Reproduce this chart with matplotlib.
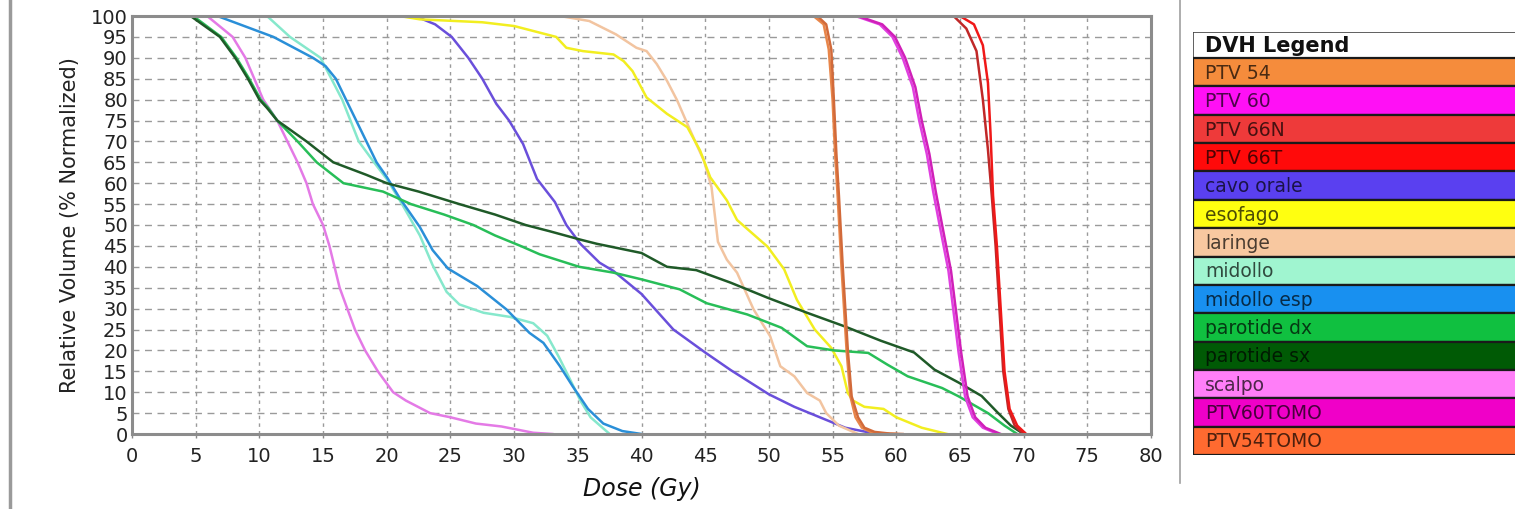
import matplotlib
matplotlib.use("Agg")
import matplotlib.pyplot as plt
from matplotlib.lines import Line2D
import numpy as np

plt.rcParams['font.family'] = ['DejaVu Sans']

# --- DVH curves (dose Gy, relative volume %) ---
scalpo_dose = [0, 5.9, 7.9, 8.9, 10.3, 11.4, 12.2, 13.0, 13.7, 14.2, 15.0, 15.5, 15.9, 16.3, 16.9,
               17.5, 18.3, 19.3, 20.5, 21.5, 23.4, 25.0, 27.0, 29.0, 30.0, 31.5, 33.0]
scalpo_vol = [100, 100, 95, 90, 80, 75, 70, 65, 60, 55, 50, 45, 40, 35, 30,
              25, 20, 15, 10, 8, 5, 4, 2.5, 1.8, 1.2, 0.3, 0]

midollo_esp_dose = [0, 6.7, 11.1, 14.2, 15.2, 16.0, 16.8, 17.6, 18.4, 19.2, 20.0, 21.0, 22.6, 23.6, 24.8,
                    27.1, 29.4, 31.2, 32.3, 33.6, 34.6, 35.8, 37.0, 38.5, 40.0]
midollo_esp_vol = [100, 100, 95, 90, 88, 85, 80, 75, 70, 65, 61.5, 56.5, 49.5, 44, 39.6,
                   35.4, 29.8, 24.2, 21.8, 16.2, 11.4, 6, 2.5, 0.7, 0]

midollo_dose = [0, 10.6, 12.4, 14.8, 16.5, 17.8, 19.0, 20.0, 21.2, 22.6, 23.6, 24.7, 25.7, 27.6, 29.7,
                31.5, 32.6, 33.5, 34.4, 35.2, 36.0, 37.5]
midollo_vol = [100, 100, 95, 90, 80, 70, 65, 61, 55, 47.5, 40.4, 34, 31, 29, 28,
               26.5, 23.5, 18.5, 13, 8, 4, 0]

parotide_sx_dose = [0, 4.6, 6.9, 8.1, 9.1, 10.0, 10.6, 11.4, 13.7, 15.8, 18.4, 20.0, 22.5, 25.7, 28.5,
                    30.9, 32.8, 35.2, 36.5, 40.0, 42.0, 44.3, 47.0, 49.9, 53.0, 55.9, 58.8, 61.4, 63.0,
                    64.9, 66.7, 68.0, 69.0, 70.0]
parotide_sx_vol = [100, 100, 95, 90, 85, 80, 78, 75, 70, 65, 62, 60, 58, 55, 52.5,
                   50, 48.5, 46.5, 45.5, 43.3, 40, 39.2, 36.2, 32.6, 29, 25.8, 22.3, 19.5, 15.4,
                   12.3, 9.1, 5, 2, 0]

parotide_dx_dose = [0, 4.8, 7.0, 8.2, 9.2, 10.1, 10.7, 11.4, 13.0, 14.5, 16.6, 19.7, 21.9, 24.5, 26.8,
                    28.5, 30.5, 32.0, 35.1, 37.8, 40.0, 43.0, 45.1, 48.3, 51.0, 53.0, 55.1, 57.8, 59.3,
                    60.9, 63.6, 64.9, 67.2, 68.5, 69.5]
parotide_dx_vol = [100, 100, 95, 90, 85, 80, 78, 75, 70, 65, 60, 58, 55, 52.5, 50,
                   47.5, 45, 43, 40, 38.6, 37, 34.6, 31.3, 28.6, 25.4, 21, 20, 19.4, 16.6,
                   13.8, 11, 9, 5, 2, 0]

cavo_orale_dose = [0, 22.2, 23.8, 25.1, 26.4, 27.5, 28.6, 29.6, 30.7, 31.8, 33.2, 34.1, 35.2, 36.7, 37.8,
                   40.0, 42.5, 45.0, 47.0, 50.0, 52.0, 54.0, 56.0, 58.0, 59.0]
cavo_orale_vol = [100, 100, 98, 95, 90, 85, 79, 75, 69.4, 61, 55.5, 50, 45.5, 41, 39,
                  33.5, 25, 19.5, 15.3, 9.5, 6.5, 4, 1.5, 0.3, 0]

esofago_dose = [0, 21.0, 22.6, 27.5, 30.0, 33.3, 34.1, 35.4, 37.8, 38.6, 39.3, 40.4, 42.0, 43.6, 44.6,
                45.4, 46.7, 47.5, 49.9, 51.2, 52.2, 53.6, 54.9, 55.7, 56.2, 56.6, 57.5, 59.0, 60.0,
                62.0, 64.0]
esofago_vol = [100, 100, 99.2, 98.5, 97.6, 95, 92.4, 91.6, 90.8, 89.2, 86.8, 80.5, 76.6, 73.4, 67.8,
               61.4, 55.9, 51.2, 44.8, 39.4, 32.1, 25, 20.6, 16.2, 9.8, 8, 6.5, 6, 4,
               1.5, 0]

laringe_dose = [0, 33.6, 35.9, 38.0, 39.6, 40.4, 41.2, 42.0, 42.8, 43.6, 44.3, 44.9, 45.5, 46.0, 46.7,
                47.5, 48.8, 50.1, 50.9, 52.0, 53.0, 54.0, 54.5, 55.5, 57.0]
laringe_vol = [100, 100, 98.8, 95.6, 92.4, 91.6, 88.5, 84.5, 79.8, 74.2, 69.4, 65.4, 59, 46, 41.7,
               38.6, 29.8, 23.4, 16.2, 13.8, 9.8, 8, 5, 2, 0]

ptv54_dose = [0, 53.5, 54.3, 54.7, 55.0, 55.2, 55.4, 55.7, 56.1, 56.4, 56.8, 57.3, 58.0, 59.0, 60.0]
ptv54_vol = [100, 100, 98, 92, 80, 67, 57, 40, 20, 9, 4, 1.5, 0.5, 0.1, 0]
ptv54tomo_dose = [0, 53.8, 54.5, 54.9, 55.1, 55.3, 55.5, 55.8, 56.2, 56.5, 57.0, 57.5, 58.3, 59.5, 60.5]
ptv54tomo_vol = [100, 100, 98, 92, 80, 67, 57, 40, 20, 9, 4, 1.5, 0.5, 0.1, 0]

ptv60_dose = [0, 56.8, 58.7, 59.7, 60.5, 61.3, 61.8, 62.4, 62.9, 63.4, 64.1, 64.9, 65.4, 66.0, 66.8, 68.0]
ptv60_vol = [100, 100, 98, 95, 90, 83, 75, 67, 58, 50, 39, 19.4, 9, 4, 1.5, 0]
ptv60tomo_dose = [0, 57.0, 58.9, 59.9, 60.7, 61.5, 62.0, 62.6, 63.1, 63.6, 64.3, 65.1, 65.6, 66.2, 67.0, 68.2]
ptv60tomo_vol = [100, 100, 98, 95, 90, 83, 75, 67, 58, 50, 39, 19.4, 9, 4, 1.5, 0]

ptv66n_dose = [0, 64.5, 65.5, 66.3, 66.8, 67.2, 67.5, 67.8, 68.1, 68.4, 68.8, 69.3, 70.0]
ptv66n_vol = [100, 100, 97, 91.6, 80, 68, 57, 45, 30, 15, 6, 2, 0]
ptv66t_dose = [0, 65.0, 66.1, 66.8, 67.2, 67.4, 67.6, 67.9, 68.2, 68.5, 68.9, 69.5, 70.2]
ptv66t_vol = [100, 100, 98, 93, 84, 72, 57, 45, 30, 15, 6, 2, 0]

# legend entries (name, swatch colour)
legend_names = ['PTV 54', 'PTV 60', 'PTV 66N', 'PTV 66T', 'cavo orale', 'esofago', 'laringe',
                'midollo', 'midollo esp', 'parotide dx', 'parotide sx', 'scalpo',
                'PTV60TOMO', 'PTV54TOMO']
legend_colors = ['#F58C3C', '#FF10F5', '#EE3A3A', '#FF0A0A', '#5A40F0', '#FFFF10', '#F8C8A0',
                 '#A0F5D0', '#1890F0', '#10C040', '#005A05', '#FF7EF8', '#F000C8', '#FF6A30']

curves = [
    (scalpo_dose, scalpo_vol, '#E47AE6'),
    (midollo_dose, midollo_vol, '#86E8CC'),
    (midollo_esp_dose, midollo_esp_vol, '#2A8FD8'),
    (cavo_orale_dose, cavo_orale_vol, '#6A4FDB'),
    (laringe_dose, laringe_vol, '#F2C4A0'),
    (esofago_dose, esofago_vol, '#F2EE20'),
    (parotide_dx_dose, parotide_dx_vol, '#28BE58'),
    (parotide_sx_dose, parotide_sx_vol, '#1F5A28'),
    (ptv54_dose, ptv54_vol, '#E8864A'),
    (ptv54tomo_dose, ptv54tomo_vol, '#D26A3A'),
    (ptv66n_dose, ptv66n_vol, '#C02828'),
    (ptv66t_dose, ptv66t_vol, '#F01818'),
    (ptv60_dose, ptv60_vol, '#E040E0'),
    (ptv60tomo_dose, ptv60tomo_vol, '#D020B8'),
]

W, H = 1515, 509
fig = plt.figure(figsize=(W / 100, H / 100), dpi=100)
fig.patch.set_facecolor('white')

ax = fig.add_axes([132 / W, 1 - 434 / H, (1151 - 132) / W, (434 - 16) / H])
for d, v, c in curves:
    ax.plot(d, v, color=c, lw=1.8, solid_joinstyle='round')

ax.set_xlim(0, 80)
ax.set_ylim(0, 100)
ax.set_xticks(np.arange(0, 81, 5))
ax.set_yticks(np.arange(0, 101, 5))
ax.tick_params(axis='both', labelsize=14, colors='#222222', length=3, width=1)
ax.tick_params(axis='x', color='#888888', pad=6)
ax.tick_params(axis='y', length=0, pad=3)

for x in np.arange(5, 80, 5):
    ax.axvline(x, color='#9a9a9a', lw=1.0, ls=(0, (2.5, 3)), zorder=0)
for y in np.arange(5, 100, 5):
    ax.axhline(y, color='#9a9a9a', lw=1.0, ls=(0, (5, 4)), zorder=0)

for s in ax.spines.values():
    s.set_color('#8c8c8c')
    s.set_linewidth(2.2)
    s.set_zorder(5)

ax.set_ylabel('Relative Volume (% Normalized)', fontsize=15, color='#222222', labelpad=8)
ax.set_xlabel('Dose (Gy)', fontsize=17, style='italic', color='#111111', labelpad=8)

# panel borders
fig.add_artist(Line2D([10 / W, 10 / W], [0, 1], color='#9a9a9a', lw=2.5))
fig.add_artist(Line2D([1180 / W, 1180 / W], [1 - 483 / H, 1], color='#a0a0a0', lw=1.2))

# --- legend table ---
top, bottom = 32, 455
lax = fig.add_axes([1193 / W, 1 - bottom / H, (1530 - 1193) / W, (bottom - top) / H])
title_h = 0.92
n = len(legend_names)
lax.set_xlim(0, 1)
lax.set_ylim(n + title_h, 0)
lax.axis('off')
lax.barh(title_h / 2, 1, height=title_h, left=0, color='white', edgecolor='#444444', lw=1.2)
lax.text(0.035, title_h / 2 + 0.05, 'DVH Legend', fontsize=15, fontweight='bold', va='center',
         color='#111111')
ypos = np.arange(n) + title_h + 0.5
lax.barh(ypos, 1, height=1, left=0, color=legend_colors, edgecolor='#1a1a1a', lw=1.6)
for y, name, c in zip(ypos, legend_names, legend_colors):
    rgb = np.array(matplotlib.colors.to_rgb(c))
    tc = rgb * 0.3
    lax.text(0.035, y + 0.04, name, fontsize=13.5, va='center', color=tc)

fig.savefig('out.png', dpi=100)
